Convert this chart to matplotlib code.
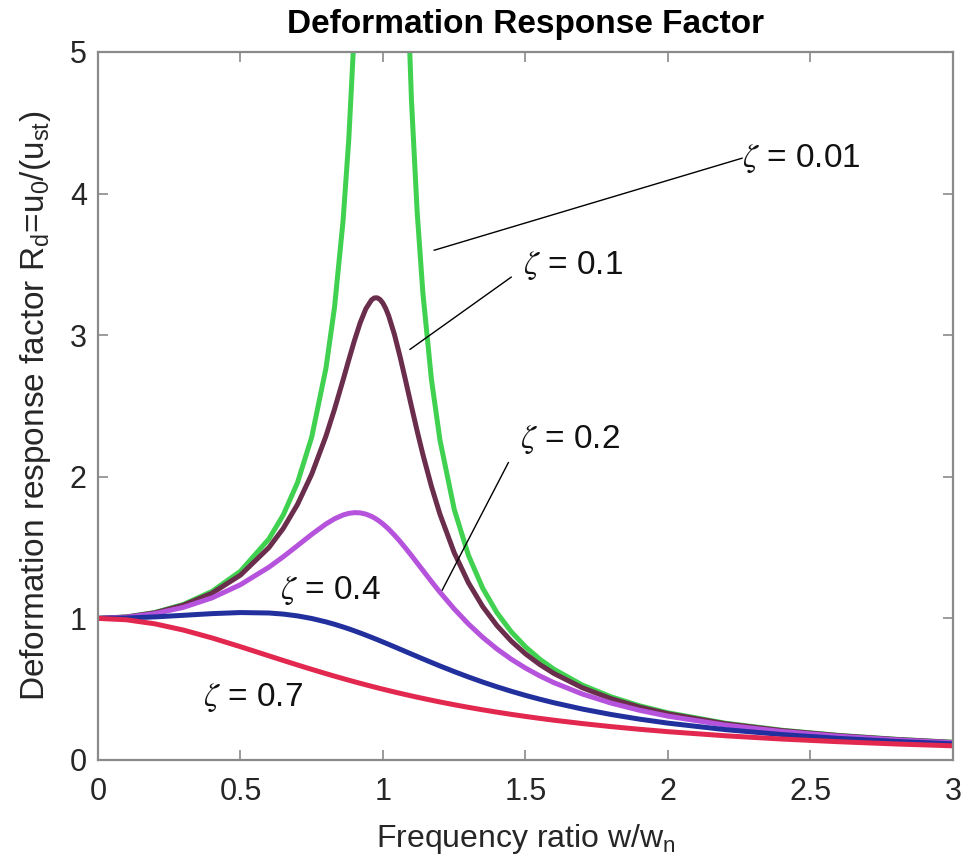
import matplotlib
matplotlib.use("Agg")
import matplotlib.pyplot as plt

plt.rcParams['font.family'] = ['Liberation Sans', 'DejaVu Sans']
plt.rcParams['mathtext.fontset'] = 'custom'
plt.rcParams['mathtext.rm'] = 'Liberation Sans'
plt.rcParams['mathtext.it'] = 'Liberation Sans:italic'

# frequency ratio w/wn
ratio = [0, 0.1, 0.2, 0.3, 0.4, 0.5, 0.6, 0.65, 0.7, 0.75, 0.8, 0.83, 0.86, 0.88,
         0.9, 0.92, 0.94, 0.96, 0.97, 0.98, 0.99, 1.0, 1.01, 1.02, 1.04, 1.06, 1.08,
         1.1, 1.12, 1.14, 1.17, 1.2, 1.25, 1.3, 1.35, 1.4, 1.45, 1.5, 1.55, 1.6, 1.7,
         1.8, 1.9, 2.0, 2.2, 2.4, 2.6, 2.8, 3.0]

# deformation response factor, one list per damping curve
rd_001 = [1.0, 1.0101, 1.0416, 1.0988, 1.1903, 1.3329, 1.5614, 1.7298, 1.9578, 2.2803,
          2.7669, 3.1962, 3.8072, 4.3796, 5.171, 6.33, 8.18, 11.45, 14.14, 17.95, 22.56,
          25.0, 22.16, 17.41, 10.92, 7.65, 5.817, 4.6607, 3.8713, 3.2998, 2.6892, 2.2593,
          1.7708, 1.4452, 1.2132, 1.0399, 0.9058, 0.7991, 0.7123, 0.6405, 0.5288, 0.4462,
          0.3830, 0.3332, 0.2603, 0.2100, 0.1736, 0.1462, 0.1250]
rd_01 = [1.0, 1.0096, 1.0395, 1.0932, 1.1777, 1.3057, 1.5004, 1.6349, 1.8043, 2.0184,
         2.2875, 2.4770, 2.6833, 2.8249, 2.9625, 3.0871, 3.1868, 3.2493, 3.2632, 3.2640,
         3.2515, 3.2258, 3.1873, 3.1371, 3.0069, 2.8484, 2.6747, 2.4970, 2.3233, 2.1584,
         1.9330, 1.7356, 1.4640, 1.2515, 1.0836, 0.9492, 0.8399, 0.7498, 0.6745, 0.6109,
         0.5097, 0.4332, 0.3737, 0.3264, 0.2564, 0.2076, 0.1719, 0.1450, 0.1242]
rd_02 = [1.0, 1.0083, 1.0336, 1.0780, 1.1447, 1.2380, 1.3618, 1.4350, 1.5136, 1.5933,
         1.6667, 1.7031, 1.7302, 1.7416, 1.7469, 1.7453, 1.7365, 1.7203, 1.7094, 1.6968,
         1.6826, 1.6667, 1.6493, 1.6304, 1.5890, 1.5435, 1.4947, 1.4438, 1.3917, 1.3392,
         1.2610, 1.1851, 1.0667, 0.9603, 0.8663, 0.7839, 0.7120, 0.6492, 0.5942, 0.5459,
         0.4656, 0.4021, 0.3511, 0.3095, 0.2463, 0.2011, 0.1676, 0.1420, 0.1220]
rd_04 = [1.0, 1.0028, 1.0106, 1.0218, 1.0336, 1.0412, 1.0381, 1.0304, 1.0176, 0.9993,
         0.9753, 0.9584, 0.9395, 0.9261, 0.9119, 0.8971, 0.8818, 0.8660, 0.8580, 0.8499,
         0.8416, 0.8333, 0.8250, 0.8165, 0.7996, 0.7825, 0.7653, 0.7482, 0.7311, 0.7141,
         0.6889, 0.6641, 0.6242, 0.5862, 0.5504, 0.5168, 0.4855, 0.4563, 0.4293, 0.4042,
         0.3596, 0.3214, 0.2885, 0.2603, 0.2146, 0.1797, 0.1527, 0.1312, 0.1140]
rd_07 = [1.0, 0.9901, 0.9615, 0.9174, 0.8621, 0.8, 0.7353, 0.7030, 0.6711, 0.64,
         0.6098, 0.5921, 0.5749, 0.5636, 0.5525, 0.5416, 0.5309, 0.5204, 0.5152, 0.5101,
         0.5050, 0.5, 0.4950, 0.4901, 0.4804, 0.4709, 0.4616, 0.4525, 0.4436, 0.4349,
         0.4222, 0.4098, 0.3902, 0.3717, 0.3543, 0.3378, 0.3223, 0.3077, 0.2939, 0.2809,
         0.2571, 0.2358, 0.2169, 0.2, 0.1712, 0.1479, 0.1289, 0.1131, 0.1]

curves = [rd_001, rd_01, rd_02, rd_04, rd_07]
colors = ['#3fd14f', '#6b2d4c', '#b653dc', '#22309e', '#e2284f']

fig = plt.figure(figsize=(9.66, 8.65), dpi=100)
ax = fig.add_axes([0.1014, 0.1214, 0.8851, 0.8185])

for y, c in zip(curves, colors):
    ax.plot(ratio, y, color=c, lw=3.6, solid_capstyle='round', solid_joinstyle='round')

ax.set_xlim(0, 3)
ax.set_ylim(0, 5)
ax.set_xticks([0, 0.5, 1, 1.5, 2, 2.5, 3])
ax.set_xticklabels(['0', '0.5', '1', '1.5', '2', '2.5', '3'])
ax.set_yticks([0, 1, 2, 3, 4, 5])

ax.tick_params(direction='in', length=7, width=1.2, colors='#8a8a8a',
               labelcolor='#262626', labelsize=22, top=True, right=True)
ax.tick_params(axis='x', pad=12)
ax.tick_params(axis='y', pad=8)
for s in ax.spines.values():
    s.set_color('#8a8a8a')
    s.set_linewidth(1.6)

ax.set_title('Deformation Response Factor', fontsize=24, fontweight='bold', pad=14)
ax.set_xlabel(r'Frequency ratio w/w$_{\rm n}$', fontsize=23, color='#262626', labelpad=11)
ax.set_ylabel(r'Deformation response factor R$_{\rm d}$=u$_{\rm 0}$/(u$_{\rm st}$)',
              fontsize=24, color='#262626', labelpad=12)

# damping labels with leader lines
lab_kw = dict(fontsize=24, color='#111111', math_fontfamily='stix', va='center', ha='left')
ax.text(2.26, 4.25, r'$\zeta$ = 0.01', **lab_kw)
ax.plot([1.18, 2.26], [3.60, 4.25], color='black', lw=1)
ax.text(1.49, 3.49, r'$\zeta$ = 0.1', **lab_kw)
ax.plot([1.095, 1.45], [2.90, 3.41], color='black', lw=1)
ax.text(1.48, 2.26, r'$\zeta$ = 0.2', **lab_kw)
ax.plot([1.208, 1.44], [1.20, 2.10], color='black', lw=1)
ax.text(0.64, 1.20, r'$\zeta$ = 0.4', **lab_kw)
ax.text(0.37, 0.44, r'$\zeta$ = 0.7', **lab_kw)

fig.savefig('out.png', dpi=100)
